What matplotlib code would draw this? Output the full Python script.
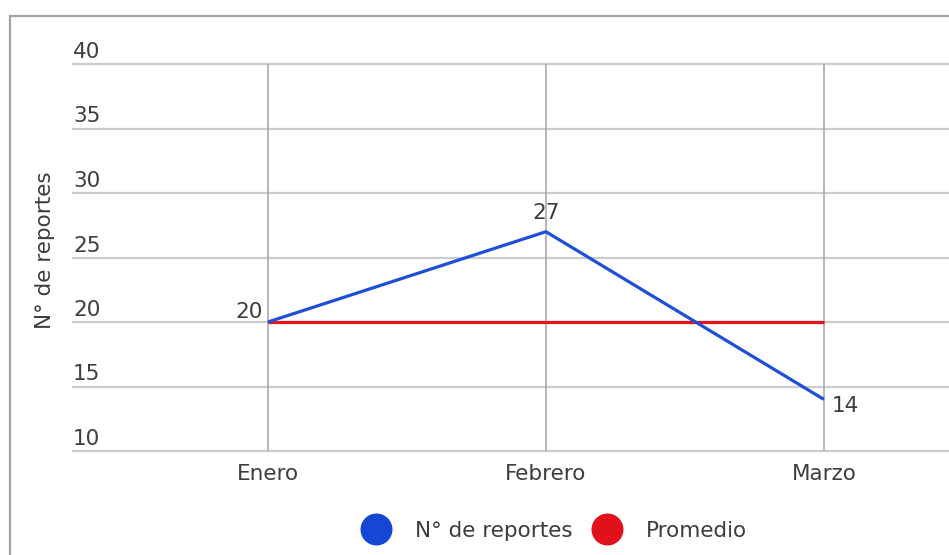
import numpy as np
import matplotlib
matplotlib.use('Agg')
import matplotlib.pyplot as plt
from matplotlib.lines import Line2D
from matplotlib.patches import Rectangle
import matplotlib.transforms as mtransforms

plt.rcParams['font.family'] = ['DejaVu Sans']

meses = ['Enero', 'Febrero', 'Marzo']
reportes = [20, 27, 14]
promedio = [20, 20, 20]
y_ticks = [10, 15, 20, 25, 30, 35, 40]

W, H = 949, 555
TXT = '#3d3d3d'
FS = 15.5
fig = plt.figure(figsize=(W / 100, H / 100), dpi=100)

# marco gris del contenedor
fig.patches.append(Rectangle((10 / W, -0.1), 1.2, 1 - 16 / H + 0.1,
                             transform=fig.transFigure, fill=False,
                             edgecolor='#a3a3a3', linewidth=1.6))

ax = fig.add_axes([73 / W, 1 - 451 / H, (949 - 73) / W, (451 - 64) / H])
x = np.arange(len(meses))
ax.set_xlim(-0.701, 2.45)
ax.set_ylim(10, 40)

for s in ax.spines.values():
    s.set_visible(False)
ax.tick_params(length=0)
ax.set_yticks(y_ticks)
ax.set_yticklabels([])
ax.set_xticks(x)
ax.set_xticklabels(meses, fontsize=FS, color=TXT)
ax.tick_params(axis='x', pad=9)
for t in y_ticks:
    ax.axhline(t, color='#cccccc', linewidth=1.6, zorder=1, clip_on=False)
for xi in x:
    ax.axvline(xi, color='#aaaaaa', linewidth=1.2, zorder=1)

off = mtransforms.offset_copy
trans = mtransforms.blended_transform_factory(ax.transAxes, ax.transData)
for t in y_ticks:
    ax.text(0.0, t, str(t), ha='left', va='baseline', fontsize=FS, color=TXT,
            transform=off(trans, fig=fig, x=0, y=6, units='dots'))

ax.plot(x, promedio, color='#e3141c', linewidth=2.3, zorder=3, solid_capstyle='butt')
ax.plot(x, reportes, color='#1f4fd8', linewidth=2.3, zorder=4, solid_capstyle='butt')

ax.text(x[0], reportes[0], '20', ha='right', va='baseline', fontsize=FS, color=TXT,
        transform=off(ax.transData, fig=fig, x=-5, y=4, units='dots'))
ax.text(x[1], reportes[1], '27', ha='center', va='baseline', fontsize=FS, color=TXT,
        transform=off(ax.transData, fig=fig, x=0, y=13, units='dots'))
ax.text(x[2], reportes[2], '14', ha='left', va='baseline', fontsize=FS, color=TXT,
        transform=off(ax.transData, fig=fig, x=8, y=-13, units='dots'))

fig.text(45 / W, 1 - 250 / H, 'N° de reportes', rotation=90, ha='center', va='center',
         fontsize=FS, color=TXT)

handles = [Line2D([], [], linestyle='none', marker='o', markersize=22,
                  markerfacecolor='#1447d4', markeredgecolor='#1447d4'),
           Line2D([], [], linestyle='none', marker='o', markersize=22,
                  markerfacecolor='#e0111b', markeredgecolor='#e0111b')]
fig.legend(handles, ['N° de reportes', 'Promedio'], loc='center',
           bbox_to_anchor=(555 / W, 1 - 531 / H), ncol=2, frameon=False,
           fontsize=FS, labelcolor=TXT, handletextpad=1.2, columnspacing=1.0,
           handlelength=1.2)

fig.savefig('out.png', dpi=100)
